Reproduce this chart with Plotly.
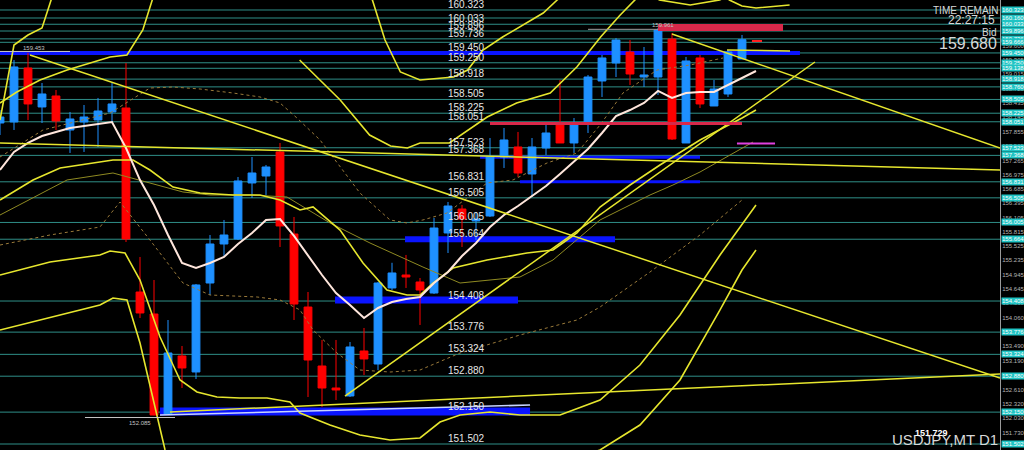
import plotly.graph_objects as go

# ---------------- candle data (USDJPY D1) ----------------
OPEN  = [158.026,158.047,159.144,158.352,158.575,157.884,158.047,158.087,158.250,158.331,
         154.591,154.144,152.112,153.291,152.966,154.774,155.567,155.669,156.807,156.949,
         157.437,155.770,154.286,153.087,152.640,152.478,153.392,153.128,154.673,154.937,
         154.795,154.571,155.791,156.278,156.035,156.136,157.335,157.539,156.990,157.518,
         158.026,157.620,158.006,158.880,159.246,159.469,158.961,158.961,159.733,157.620,
         159.348,158.372,158.616,159.327]
HIGH  = [158.291,159.307,159.453,158.839,158.697,158.250,158.392,158.535,158.839,159.246,
         155.303,154.835,154.022,153.494,154.754,155.750,156.055,156.929,157.335,157.173,
         157.620,156.116,154.591,153.616,153.616,153.575,153.860,154.795,155.185,155.344,
         154.876,156.096,156.421,156.360,156.218,157.721,157.925,157.844,157.721,158.047,
         158.900,158.128,159.002,159.409,159.754,159.713,159.571,159.961,159.856,159.368,
         159.409,158.900,159.510,159.815]
LOW   = [157.782,157.884,158.087,158.026,157.884,157.417,157.437,157.539,158.026,155.608,
         154.063,152.085,152.091,152.640,152.823,154.530,155.303,155.648,156.502,156.563,
         155.506,154.022,152.457,152.254,152.396,152.457,152.905,153.006,154.632,154.673,
         153.921,154.551,155.384,155.506,155.648,156.116,157.112,156.929,156.522,157.376,
         157.620,157.417,157.823,158.555,158.961,158.799,158.758,158.596,157.681,157.620,
         158.331,158.372,158.555,159.327]
CLOSE = [158.148,159.165,158.413,158.616,158.067,158.108,158.148,158.270,158.413,155.669,
         154.165,152.091,153.352,153.047,154.734,155.567,155.750,156.848,157.010,157.132,
         155.933,154.347,153.209,152.640,152.600,153.474,153.230,154.774,154.978,154.896,
         154.632,155.892,156.339,156.075,156.075,157.335,157.681,157.010,157.539,157.823,
         157.620,158.026,158.961,159.348,159.713,159.022,159.002,159.916,157.701,159.287,
         158.413,158.717,159.469,159.720]

# ---------------- indicators ----------------
MA_X = list(range(55))
MA_P = [157.071,157.437,157.620,157.762,157.843,157.925,157.965,158.006,158.047,157.518,
        156.867,156.359,155.750,155.181,155.079,155.181,155.303,155.567,155.791,156.055,
        156.075,155.730,155.323,154.937,154.571,154.327,154.063,154.266,154.388,154.449,
        154.490,154.774,154.998,155.323,155.587,155.912,156.156,156.339,156.543,156.746,
        156.990,157.234,157.498,157.823,158.168,158.290,158.433,158.677,158.534,158.636,
        158.656,158.656,158.798,158.941,159.083]

U3_X = [0, 1, 2, 3, 4, 6, 21, 43, 50, 52.1, 53, 54, 56.4]
U3_P = [158.087,159.611,159.815,159.957,160.831,161.746,162.152,161.746,161.0,160.526,160.404,160.363,160.424]

U2_X = [0,1.2,2.86,4.79,7.86,9.07,10.2,11.1,14,21,25.7,26.6,27.5,28.6,30,30.9,32.4,33.4,34.5,35.9,
        37.1,38.8,39.8,41.4,45,47.1,49.3,51.4,52.9]
U2_P = [158.433,158.656,158.900,159.103,159.368,159.408,159.916,160.729,161.542,161.542,160.831,
        160.526,159.713,159.063,158.900,158.920,158.961,159.103,159.510,159.774,159.977,160.262,
        160.526,160.933,160.933,160.526,160.424,160.526,160.729]

Y3_X = [21.4,24.3,26.4,27.9,29.1,30,32.1,34.8,36.9,39.3,41.2,42.9,44.3,45.7]
Y3_P = [159.307,158.494,157.782,157.559,157.518,157.620,157.620,158.148,158.433,158.636,159.164,
        159.774,160.221,160.628]

YM_X = [0,2.36,4.29,6.64,8.07,9.5,10.71,12.36,14.29,16.64,18.57,20,21.43,22.36,24.29,25.93,27.64,
        29.07,30,30.93,32.36,34.79,37.64,39.5,41.21,42.86,45,47.14,50,53,54]
YM_P = [156.461,156.868,157.112,157.213,157.274,157.274,157.071,156.725,156.603,156.563,156.563,
        156.461,156.258,156.319,155.851,155.181,154.632,154.530,154.530,154.774,155.079,155.242,
        155.384,155.445,155.790,156.319,156.766,157.172,157.681,158.128,158.290]

O1_X = [0,4.79,8.07,10.71,13.07,15,17.86,20.5,23.57,26.43,30.21,32.86,37.14,39.5,42.86,46.43,48.07,50,53.79]
O1_P = [156.156,156.868,157.010,156.807,156.624,156.563,156.563,156.522,155.994,155.587,155.099,
        154.774,154.896,155.242,156.055,156.563,156.766,157.030,157.640]

DU_X = [0,3.07,7.86,10.71,12.36,14.29,16.64,18.57,20,21.21,22.86,25.71,27.86,29.07,30.21,31.93,
        34.79,36.64,39.07,41.21,42.86,44.5,46.93,49.29,51.64]
DU_P = [157.335,157.884,158.229,158.737,158.758,158.717,158.636,158.555,158.433,158.128,157.681,
        156.603,156.055,155.994,156.055,156.197,156.807,156.868,157.213,157.416,157.985,158.636,
        159.103,159.205,159.347]

DL_X = [0,3.57,7.14,8.57,10.71,13.07,15,18.36,20,21.43,22.36,24.07,25.71,27.86,30,32.86,37.14,
        41.21,42.86,46.43,50,53]
DL_P = [155.546,155.750,155.912,156.420,155.648,154.774,154.530,154.490,154.429,154.226,153.819,
        153.351,153.006,152.965,153.006,153.351,153.717,154.022,154.286,154.998,155.750,156.461]

L2_X = [0,3.57,7.14,7.86,8.93,10,11.43,12.86,14.07,15.5,17.14,19.07,20.71,21.43,23.57,25.71,27.86,
        30,31.43,32.86,35,37.14,40,42.86,45.71,48.57,51.43,53,54]
L2_P = [154.937,155.201,155.343,155.425,155.384,154.835,153.677,152.803,152.559,152.457,152.437,
        152.437,152.355,152.132,151.888,151.685,151.583,151.624,151.949,152.091,152.152,152.091,
        152.091,152.396,153.107,154.124,155.343,155.953,156.359]

L3_X = [0,7.14,8.07,9.07,10,11.21,11.79,12.86,28.57,38.57,42.86,45.71,48.57,51.43,53,54]
L3_P = [153.819,154.327,154.469,154.429,153.554,152.050,151.380,150.567,150.364,150.973,151.380,
        151.888,152.803,154.226,155.038,155.445]

# ---------------- horizontal levels ----------------
LEVELS = [160.323,160.033,159.896,159.736,159.450,159.250,158.918,158.505,158.225,158.051,157.523,
          157.368,156.831,156.505,156.005,155.664,154.408,153.776,153.324,152.880,152.150,151.502]
EXTRA_LEVELS = [160.160,159.666,159.138,158.760]

AXIS_TICKS = [160.470,160.180,159.890,159.600,159.305,159.015,158.725,158.435,158.145,157.855,
              157.565,157.265,156.975,156.685,156.395,156.105,155.815,155.525,155.235,154.945,
              154.645,154.360,154.060,153.780,153.490,153.190,152.900,152.610,152.320,152.030,151.730]

# blue zones: (x0, x1, price, width)
BLUE_ZONES = [(0, 57.14, 159.45, 4), (34.29, 50, 157.33, 3), (37.14, 50, 156.831, 3),
              (28.93, 43.93, 155.664, 6), (23.93, 37.0, 154.43, 7), (11.43, 37.86, 152.16, 8)]
# trend lines: (x0, p0, x1, p1)
TRENDS = [(2.14, 159.408, 71.43, 152.843), (0, 157.620, 71.43, 157.071),
          (24.64, 152.477, 58.21, 159.266), (48, 159.835, 71.43, 157.518),
          (12.14, 152.152, 71.43, 152.925), (51.93, 159.510, 56.43, 159.489)]

YMIN, YMAX = 151.380, 160.526
XMAX = 1000 / 14

BG = "#000000"
YEL = "#E6E62E"
TEAL = "#2f8f88"

fig = go.Figure()

def curve(x, y, color, width, dash="solid"):
    fig.add_trace(go.Scatter(x=x, y=y, mode="lines", line=dict(color=color, width=width, dash=dash),
                             hoverinfo="skip", showlegend=False))

curve(DU_X, DU_P, "#9a7a3a", 1, "dot")
curve(DL_X, DL_P, "#9a7a3a", 1, "dot")
curve(O1_X, O1_P, "#8f8a22", 1)
curve(U3_X, U3_P, YEL, 1.6)
curve(U2_X, U2_P, YEL, 1.6)
curve(Y3_X, Y3_P, YEL, 1.6)
curve(YM_X, YM_P, YEL, 1.6)
curve(L2_X, L2_P, YEL, 1.6)
curve(L3_X, L3_P, YEL, 1.6)

fig.add_trace(go.Candlestick(
    x=list(range(len(OPEN))), open=OPEN, high=HIGH, low=LOW, close=CLOSE,
    increasing=dict(line=dict(color="#1E90FF", width=1), fillcolor="#1E90FF"),
    decreasing=dict(line=dict(color="#FF0000", width=1), fillcolor="#FF0000"),
    whiskerwidth=0, showlegend=False, hoverinfo="skip"))

curve(MA_X, MA_P, "#FFE6DC", 2)

shapes = []
for p in LEVELS + EXTRA_LEVELS:
    shapes.append(dict(type="line", xref="x", yref="y", x0=0, x1=XMAX, y0=p, y1=p,
                       line=dict(color=TEAL, width=1), layer="below"))
for x0, x1, p, w in BLUE_ZONES:
    shapes.append(dict(type="line", xref="x", yref="y", x0=x0, x1=x1, y0=p, y1=p,
                       line=dict(color="#0a14ff", width=w), layer="below"))
for x0, p0, x1, p1 in TRENDS:
    shapes.append(dict(type="line", xref="x", yref="y", x0=x0, x1=x1, y0=p0, y1=p1,
                       line=dict(color=YEL, width=1.5), layer="above"))
shapes.append(dict(type="line", x0=11.43, x1=37.86, y0=152.091, y1=152.294,
                   line=dict(color="#c8d4ff", width=1.5)))
shapes.append(dict(type="line", x0=6.07, x1=12.5, y0=152.04, y1=152.04, line=dict(color="#c8c8c8", width=1)))
shapes.append(dict(type="line", x0=0, x1=5, y0=159.48, y1=159.48, line=dict(color="#c8c8c8", width=1)))
shapes.append(dict(type="line", x0=42, x1=50, y0=159.93, y1=159.93, line=dict(color="#a0a0a0", width=1)))
shapes.append(dict(type="rect", x0=47, x1=55.93, y0=159.896, y1=160.038,
                   fillcolor="#d8284a", line=dict(width=0)))
shapes.append(dict(type="line", x0=35, x1=53, y0=158.016, y1=158.016, line=dict(color="#d8284a", width=3)))
shapes.append(dict(type="line", x0=53.71, x1=54.43, y0=159.693, y1=159.693, line=dict(color="#ff2020", width=2)))
shapes.append(dict(type="line", x0=52.64, x1=55.36, y0=157.609, y1=157.609, line=dict(color="#e040e0", width=2)))

ann = []
for p in LEVELS:
    ann.append(dict(x=446 / 14, y=p, xref="x", yref="y", text=f"{p:.3f}", showarrow=False,
                    xanchor="left", yanchor="bottom", yshift=-2,
                    font=dict(family="Liberation Sans", size=10, color="#e6e6e6")))
for p in LEVELS + EXTRA_LEVELS:
    ann.append(dict(x=1, y=p, xref="paper", yref="y", text=f"{p:.3f}", showarrow=False,
                    xanchor="left", yanchor="middle", xshift=1, bgcolor="#1fc4c4", borderpad=0,
                    font=dict(family="Liberation Sans", size=6, color="#ffffff")))
ann.append(dict(x=1.5, y=159.453, xref="x", yref="y", text="159.453", showarrow=False, xanchor="left",
                yanchor="bottom", font=dict(family="Liberation Sans", size=6, color="#c0c0c0")))
ann.append(dict(x=10, y=152.04, xref="x", yref="y", text="152.085", showarrow=False, xanchor="center",
                yanchor="top", font=dict(family="Liberation Sans", size=6, color="#c0c0c0")))
ann.append(dict(x=46.4, y=159.93, xref="x", yref="y", text="159.961", showarrow=False, xanchor="left",
                yanchor="bottom", yshift=-1, font=dict(family="Liberation Sans", size=6, color="#c0c0c0")))

def ptext(px, py, txt, size, anchor="right", color="#d8d8d8"):
    ann.append(dict(x=px / 1000, y=1 - py / 450, xref="paper", yref="paper", text=txt, showarrow=False,
                    xanchor=anchor, yanchor="middle", font=dict(family="Liberation Sans", size=size, color=color)))
ptext(1001, 10, "TIME REMAIN", 10)
ptext(997, 20, "22:27:15", 12)
ptext(998, 32, "Bid", 10)
ptext(999, 43, "159.680", 16)
ptext(1000, 439, "USDJPY,MT D1", 15)
ptext(931, 433, "<b>151.729</b>", 9, anchor="center", color="#ffffff")

fig.update_layout(
    width=1024, height=450, margin=dict(l=0, r=24, t=0, b=0),
    paper_bgcolor=BG, plot_bgcolor=BG, showlegend=False, boxgap=0.2,
    shapes=shapes, annotations=ann,
    xaxis=dict(range=[0, XMAX], visible=False, rangeslider=dict(visible=False), fixedrange=True),
    yaxis=dict(range=[YMIN, YMAX], side="right", showgrid=False, zeroline=False,
               tickvals=AXIS_TICKS, ticktext=[f"{v:.3f}" for v in AXIS_TICKS],
               tickfont=dict(family="Liberation Sans", size=6, color="#b4b4b4"),
               ticks="", showline=True, linecolor="#9a9a9a", linewidth=1),
)
fig.write_html("out.html", config={"displayModeBar": False},
               post_script="document.body.style.margin='0';document.body.style.background='#000';")
